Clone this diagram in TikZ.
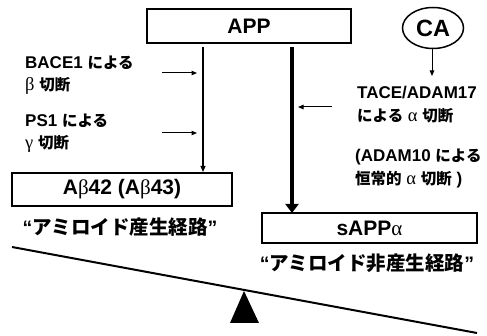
\documentclass[tikz,border=0pt]{standalone}
\usepackage{fontspec}
\setmainfont{Liberation Sans}
\newfontfamily\jpfont{Noto Sans CJK JP}
\newfontfamily\grfont{Liberation Serif}
\usetikzlibrary{arrows.meta,shapes.geometric}
\newcommand{\Jsm}[1]{{\jpfont\bfseries\fontsize{15.5}{17}\selectfont #1}}
\newcommand{\JB}[1]{{\jpfont\bfseries #1}}
\newcommand{\Gk}[1]{{\grfont\mdseries\fontsize{18.5}{20}\selectfont #1}}
\newcommand{\Gb}[1]{{\grfont\mdseries #1}}
\begin{document}
\begin{tikzpicture}[x=1pt,y=-1pt,
  lbl/.style={font=\bfseries\fontsize{17}{22.5}\selectfont, align=left, anchor=west, inner sep=0pt},
  boxnode/.style={draw, line width=2pt, inner sep=0pt, font=\bfseries\fontsize{21}{23}\selectfont},
  biglbl/.style={font=\bfseries\fontsize{19.5}{22}\selectfont, inner sep=0pt},
  thinarrow/.style={line width=1.2pt, -{Triangle[length=6pt,width=5pt]}},
  smallarrow/.style={line width=1pt, -{Triangle[length=5.5pt,width=4.5pt]}},
  thickarrow/.style={line width=4pt, -{Triangle[length=9pt,width=13pt]}}]
\useasboundingbox (0,0) rectangle (487,336);

% boxes
\node[boxnode, minimum width=204pt, minimum height=34pt] (app) at (249,26) {APP};
\node[boxnode, minimum width=220pt, minimum height=33pt] (ab) at (122,189.5) {A\Gb{β}42 (A\Gb{β}43)};
\node[boxnode, minimum width=215pt, minimum height=30pt] (sapp) at (369.5,228) {sAPP\Gb{α}};
\node[draw, ellipse, line width=1.5pt, minimum width=61pt, minimum height=41pt, inner sep=0pt,
  font=\bfseries\fontsize{23.5}{25}\selectfont] (ca) at (433,28) {CA};

% pathway labels
\node[biglbl] (l1) at (120,227) {“\JB{アミロイド産生経路}”};
\node[biglbl] (l2) at (367,263) {“\JB{アミロイド非産生経路}”};

% enzyme labels
\node[lbl] (bace) at (25,75) {BACE1 \Jsm{による}\\\Gk{β} \Jsm{切断}};
\node[lbl] (ps) at (25,133) {PS1 \Jsm{による}\\\Gk{γ} \Jsm{切断}};
\node[lbl] (tace) at (357,104.5) {TACE/ADAM17\\\Jsm{による} \Gk{α} \Jsm{切断}};
\node[lbl] (adam) at (355,168.5) {(ADAM10 \Jsm{による}\\\Jsm{恒常的} \Gk{α} \Jsm{切断} )};

% main connectors
\coordinate (t1) at (203,47);
\coordinate (t2) at (292,47);
\draw[thinarrow] (t1) -- (t1 |- ab.north);
\draw[thickarrow] (t2) -- ([yshift=-1pt]t2 |- sapp.north);

% small arrows
\coordinate (b1) at (162,73); \coordinate (b2) at (197,73);
\coordinate (p1) at (162,133); \coordinate (p2) at (197,133);
\coordinate (r1) at (332,107); \coordinate (r2) at (298,107);
\coordinate (c2) at (432,76);
\draw[smallarrow] (b1) -- (b2);
\draw[smallarrow] (p1) -- (p2);
\draw[smallarrow] (r1) -- (r2);
\draw[smallarrow] (ca.south -| c2) -- (c2);

% seesaw
\fill (244,291) -- (230,323) -- (259,323) -- cycle;
\coordinate (sl) at (12,247);
\coordinate (sr) at (477,333);
\draw[line width=2pt] (sl) -- (sr);
\end{tikzpicture}
\end{document}
